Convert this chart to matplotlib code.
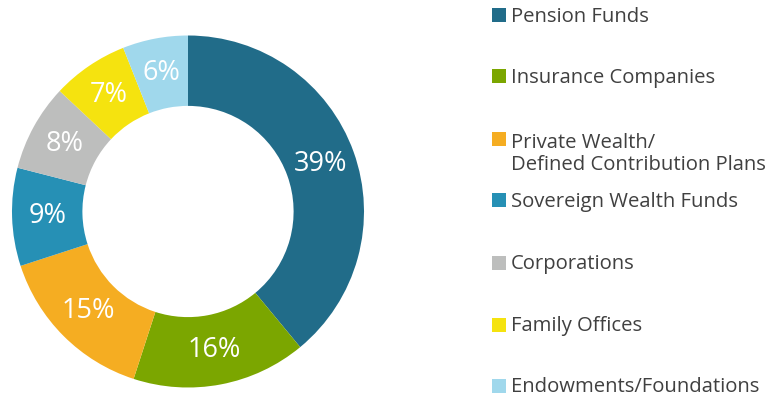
import matplotlib
matplotlib.use("Agg")
import matplotlib.pyplot as plt
from matplotlib.patches import Rectangle

categories = ["Pension Funds", "Insurance Companies", "Private Wealth/\nDefined Contribution Plans",
              "Sovereign Wealth Funds", "Corporations", "Family Offices", "Endowments/Foundations"]
values = [39, 16, 15, 9, 8, 7, 6]
colors = ["#216C89", "#7BA600", "#F5AD22", "#2690B5", "#BDBEBD", "#F5E30F", "#A0D8EC"]

plt.rcParams['font.family'] = ['Open Sans', 'DejaVu Sans']

W, H = 775, 400
fig = plt.figure(figsize=(W/100, H/100), dpi=100)
cx, cy, R = 188, 211.5, 176
ax = fig.add_axes([(cx-R)/W, (H-cy-R)/H, 2*R/W, 2*R/H])
wedges, texts, autotexts = ax.pie(values, colors=colors, startangle=90, counterclock=False,
                                  radius=1, wedgeprops=dict(width=0.4, linewidth=0),
                                  autopct=lambda p: f"{p:.0f}%", pctdistance=0.8,
                                  textprops=dict(color="white", fontsize=19.5))
ax.set_xlim(-1, 1)
ax.set_ylim(-1, 1)
ax.set_aspect('equal')
ax.axis('off')

# legend
ys = [15, 76, 139, 200, 263, 325, 386]
for lab, col, y in zip(categories, colors, ys):
    fig.patches.append(Rectangle((492/W, (H-y-7)/H), 14/W, 14/H, transform=fig.transFigure,
                                 facecolor=col, edgecolor='none'))
    if '\n' in lab:
        fig.text(511/W, (H-y+6)/H, lab, ha='left', va='top',
                 fontsize=14.6, color="#404040", linespacing=1.15)
    else:
        fig.text(511/W, (H-y-1.5)/H, lab, ha='left', va='center',
                 fontsize=14.6, color="#404040")

fig.savefig("out.png", dpi=100)
